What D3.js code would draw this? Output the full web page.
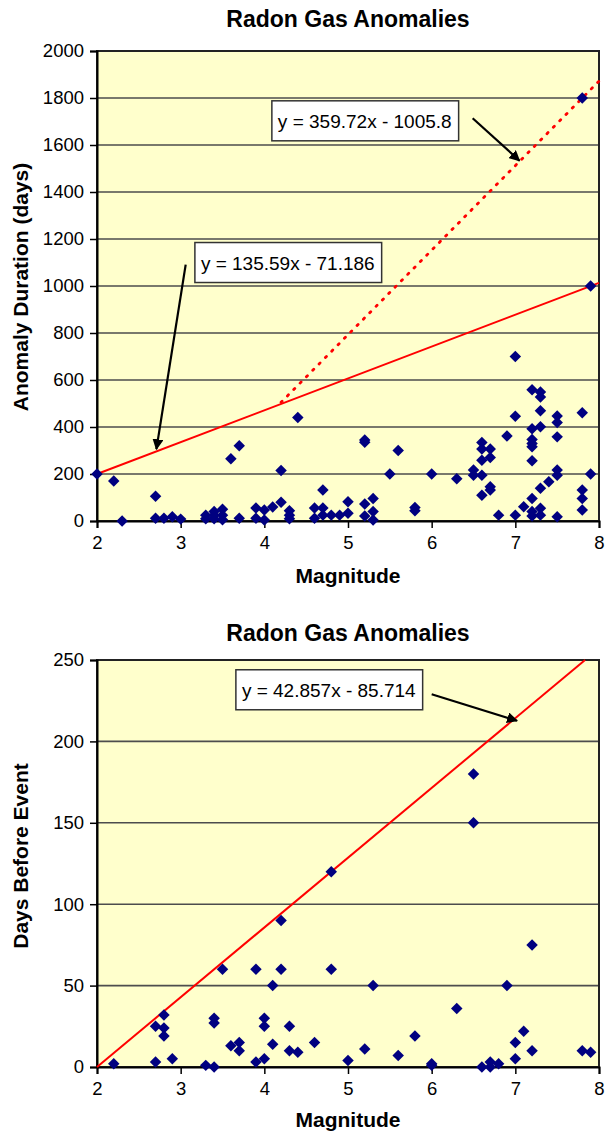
<!DOCTYPE html>
<html><head><meta charset="utf-8">
<script src="https://cdn.jsdelivr.net/npm/d3@7"></script>
<style>
body{margin:0;background:#fff}
svg{display:block}
text{font-family:Arial,"Liberation Sans",Helvetica,sans-serif;fill:#000}
</style>
</head><body>
<svg id="chart" width="605" height="1134"></svg>
<script>
// ---------- DATA ----------
const chartTitle = "Radon Gas Anomalies";
const xTickValues = [2, 3, 4, 5, 6, 7, 8];
const durationTicks = [0, 200, 400, 600, 800, 1000, 1200, 1400, 1600, 1800, 2000];
const leadTicks = [0, 50, 100, 150, 200, 250];

// Chart 1: anomaly duration vs magnitude
const durationMagnitude = [
  2.0, 2.2, 2.3, 2.7, 2.7, 2.8, 2.9, 3.0, 3.3, 3.3, 3.4, 3.4, 3.4, 3.5, 3.5, 3.5,
  3.6, 3.7, 3.7, 3.9, 3.9, 4.0, 4.0, 4.1, 4.2, 4.2, 4.3, 4.3, 4.3, 4.4, 4.6, 4.6,
  4.7, 4.7, 4.7, 4.8, 4.9, 5.0, 5.0, 5.2, 5.2, 5.2, 5.2, 5.3, 5.3, 5.3, 5.5, 5.6,
  5.8, 5.8, 6.0, 6.3, 6.5, 6.5, 6.6, 6.6, 6.6, 6.6, 6.6, 6.7, 6.7, 6.7, 6.7, 6.8,
  6.9, 7.0, 7.0, 7.0, 7.1,
  7.2, 7.2, 7.2, 7.2, 7.2, 7.2, 7.2, 7.2, 7.2,
  7.3, 7.3, 7.3, 7.3, 7.3, 7.3, 7.3, 7.4,
  7.5, 7.5, 7.5, 7.5, 7.5, 7.5,
  7.8, 7.8, 7.8, 7.8, 7.8, 7.9, 7.9
];
const durationDays = [
  200, 170, 0, 105, 12, 12, 18, 8, 10, 25, 40, 10, 25, 50, 25, 5,
  265, 320, 12, 55, 12, 47, 4, 60, 215, 80, 44, 25, 10, 440, 55, 12,
  132, 55, 25, 25, 25, 82, 33, 345, 335, 72, 21, 96, 40, 4, 200, 300,
  57, 44, 200, 180, 217, 195, 334, 306, 259, 195, 110, 306, 270, 146, 132, 25,
  362, 700, 446, 25, 61,
  559, 393, 347, 330, 316, 256, 96, 40, 21,
  549, 528, 469, 401, 139, 54, 25, 167,
  447, 419, 358, 217, 195, 18,
  1800, 461, 132, 96, 47, 1000, 200
];
const solidFit = [135.59, -71.186];   // slope, intercept
const solidFitRange = [2, 8];
const dottedFit = [359.72, -1005.8];
const dottedFitRange = [4.2, 8];

// Chart 2: days before event vs magnitude
const leadMagnitude = [
  2.2, 2.7, 2.7, 2.8, 2.8, 2.8, 2.9, 3.3, 3.4, 3.4, 3.4, 3.5, 3.6, 3.7, 3.7, 3.9, 3.9,
  4.0, 4.0, 4.0, 4.1, 4.1, 4.2, 4.2, 4.3, 4.3, 4.4, 4.6, 4.8, 4.8, 5.0, 5.2, 5.3,
  5.6, 5.8, 6.0, 6.0, 6.3, 6.5, 6.5, 6.6, 6.7, 6.7, 6.8, 6.9, 7.0, 7.0, 7.1,
  7.2, 7.2, 7.8, 7.9
];
const leadDays = [
  2, 25, 3, 32, 24, 19, 5, 1, 30, 27, 0, 60, 13, 15, 10, 60, 3,
  30, 25, 5, 50, 14, 90, 60, 25, 10, 9, 15, 120, 60, 4, 11, 50,
  7, 19, 2, 1, 36, 180, 150, 0, 3, 0, 2, 50, 15, 5, 22,
  75, 10, 10, 9
];
const leadFit = [42.857, -85.714];
const leadFitRange = [2, 7.8333];

const equationLabels = ["y = 359.72x - 1005.8", "y = 135.59x - 71.186", "y = 42.857x - 85.714"];
const axisTitles = ["Anomaly Duration (days)", "Days Before Event", "Magnitude"];

// ---------- DRAWING ----------
const svg = d3.select("#chart");
const defs = svg.append("defs");
defs.append("marker").attr("id", "arrow")
  .attr("viewBox", "0 0 10 10").attr("refX", 9).attr("refY", 5)
  .attr("markerWidth", 5).attr("markerHeight", 5).attr("orient", "auto")
  .attr("markerUnits", "strokeWidth")
  .append("path").attr("d", "M0,0 L10,5 L0,10 Z").attr("fill", "#000");

const left = 97, right = 599;

function drawChart(cfg) {
  const g = svg.append("g");
  const x = d3.scaleLinear().domain([2, 8]).range([left, right]);
  const y = d3.scaleLinear().domain(cfg.yDomain).range([cfg.bottom, cfg.top]);

  g.append("rect").attr("x", left).attr("y", cfg.top)
    .attr("width", right - left).attr("height", cfg.bottom - cfg.top)
    .attr("fill", "#FFFFCC");

  g.append("g").selectAll("line").data(cfg.yTicks.filter(v => v > cfg.yDomain[0] && v < cfg.yDomain[1]))
    .join("line")
    .attr("x1", left).attr("x2", right)
    .attr("y1", d => y(d)).attr("y2", d => y(d))
    .attr("stroke", "#4d4d4d").attr("stroke-width", 1.6);

  g.append("rect").attr("x", left).attr("y", cfg.top)
    .attr("width", right - left).attr("height", cfg.bottom - cfg.top)
    .attr("fill", "none").attr("stroke", "#222").attr("stroke-width", 2);

  const ya = g.append("g").attr("transform", `translate(${left},0)`)
    .call(d3.axisLeft(y).tickValues(cfg.yTicks).tickSize(7).tickPadding(6).tickFormat(d3.format("d")));
  const xa = g.append("g").attr("transform", `translate(0,${cfg.bottom})`)
    .call(d3.axisBottom(x).tickValues(xTickValues).tickSize(7).tickPadding(8).tickFormat(d3.format("d")));
  [ya, xa].forEach(a => {
    a.select(".domain").attr("stroke", "#000").attr("stroke-width", 2);
    a.selectAll(".tick line").attr("stroke", "#000").attr("stroke-width", 1.5);
    a.selectAll("text").attr("font-size", 18.5).attr("fill", "#000")
      .style("font-family", "Arial, 'Liberation Sans', sans-serif");
  });

  cfg.fits.forEach(f => {
    const pts = f.range.map(m => [x(m), y(f.coef[0] * m + f.coef[1])]);
    g.append("path").attr("d", d3.line()(pts))
      .attr("fill", "none").attr("stroke", "#FF0000")
      .attr("stroke-width", f.dotted ? 2.8 : 2)
      .attr("stroke-dasharray", f.dotted ? "1.5,7.5" : null)
      .attr("stroke-linecap", f.dotted ? "round" : "butt");
  });

  const diamond = d3.symbol(d3.symbolSquare, 66)();
  g.append("g").selectAll("path").data(cfg.mags.map((m, i) => [m, cfg.vals[i]]))
    .join("path")
    .attr("d", diamond)
    .attr("transform", d => `translate(${x(d[0])},${y(d[1])}) rotate(45)`)
    .attr("fill", "#000080");

  cfg.notes.forEach(n => {
    const bx = x(n.box[0]), by = y(n.box[1]);
    const t = g.append("text").attr("x", bx + 6).attr("y", by + 27)
      .attr("font-size", 19).text(n.label);
    const w = t.node().getComputedTextLength();
    g.insert("rect", () => t.node())
      .attr("x", bx).attr("y", by).attr("width", w + 13).attr("height", 40)
      .attr("fill", "#fff").attr("stroke", "#333").attr("stroke-width", 1.5);
    g.append("line")
      .attr("x1", x(n.from[0])).attr("y1", y(n.from[1]))
      .attr("x2", x(n.to[0])).attr("y2", y(n.to[1]))
      .attr("stroke", "#000").attr("stroke-width", 2.2)
      .attr("marker-end", "url(#arrow)");
  });

  g.append("text").attr("x", (left + right) / 2).attr("y", cfg.titleY)
    .attr("text-anchor", "middle").attr("font-size", 23).attr("font-weight", "bold")
    .text(chartTitle);
  g.append("text").attr("x", (left + right) / 2).attr("y", cfg.xTitleY)
    .attr("text-anchor", "middle").attr("font-size", 21).attr("font-weight", "bold")
    .text(axisTitles[2]);
  g.append("text").attr("transform", `translate(28,${cfg.yTitleC}) rotate(-90)`)
    .attr("text-anchor", "middle").attr("font-size", 21).attr("font-weight", "bold")
    .text(cfg.yTitle);
}

drawChart({
  top: 51, bottom: 521, yDomain: [0, 2000], yTicks: durationTicks,
  titleY: 27, xTitleY: 583, yTitleC: 287, yTitle: axisTitles[0],
  mags: durationMagnitude, vals: durationDays,
  fits: [
    {coef: solidFit, range: solidFitRange, dotted: false},
    {coef: dottedFit, range: dottedFitRange, dotted: true}
  ],
  notes: [
    {label: equationLabels[0], box: [4.09, 1788], from: [6.49, 1714], to: [7.05, 1533]},
    {label: equationLabels[1], box: [3.17, 1185], from: [3.06, 1091], to: [2.71, 306]}
  ]
});

drawChart({
  top: 660, bottom: 1067, yDomain: [0, 250], yTicks: leadTicks,
  titleY: 641, xTitleY: 1127, yTitleC: 856, yTitle: axisTitles[1],
  mags: leadMagnitude, vals: leadDays,
  fits: [{coef: leadFit, range: leadFitRange, dotted: false}],
  notes: [
    {label: equationLabels[2], box: [3.66, 244], from: [6.0, 229], to: [7.02, 212.7]}
  ]
});
</script>
</body></html>
